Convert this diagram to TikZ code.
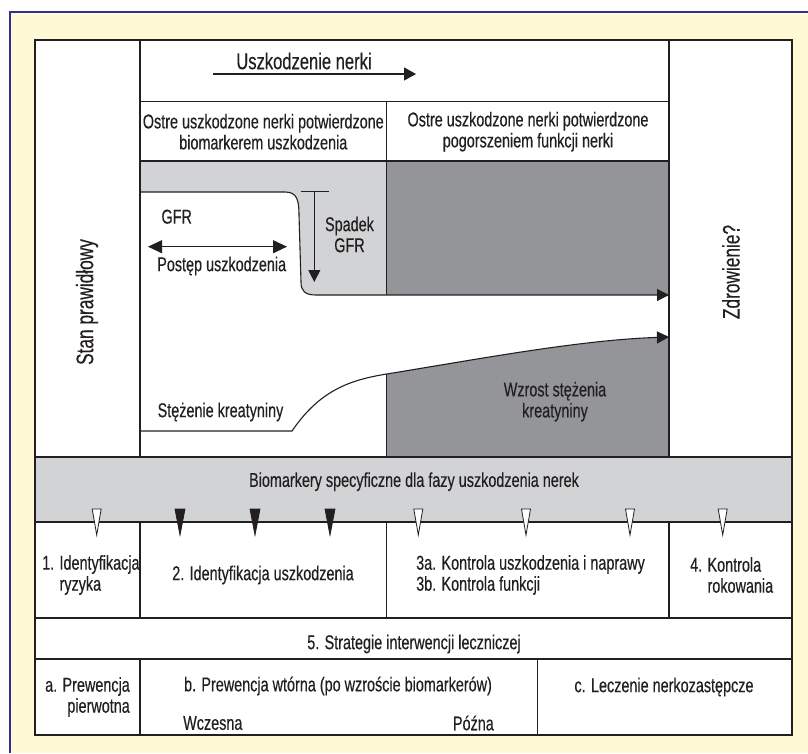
\documentclass[tikz,border=0pt]{standalone}
\usepackage{fontspec}
\setmainfont{Liberation Sans}[FakeStretch=0.72,FakeBold=0.35]
\usetikzlibrary{arrows.meta}
\definecolor{cream}{RGB}{255,249,214}
\definecolor{frameblue}{RGB}{46,49,146}
\definecolor{lgray}{RGB}{209,211,212}
\definecolor{dgray}{RGB}{147,149,152}
\definecolor{ink}{RGB}{35,31,32}
\begin{document}
\begin{tikzpicture}[x=1pt,y=-1pt,
  grid/.style={draw=ink,line width=1.2pt},
  lbl/.style={text=ink,inner sep=0pt,align=center,font=\fontsize{20}{21}\selectfont},
  big/.style={text=ink,inner sep=0pt,align=center,font=\fontsize{23}{25}\selectfont},
  rot/.style={text=ink,inner sep=0pt,rotate=90,font=\fontsize{24}{26}\selectfont},
  tip/.style={-{Triangle[length=12pt,width=12pt]}},
  wmark/.pic={\draw[ink,fill=white,line width=0.8pt] (-4.5,-13) -- (4.5,-13) -- (0,13) -- cycle;},
  bmark/.pic={\draw[ink,fill=ink,line width=0.8pt] (-5,-13) -- (5,-13) -- (0,13) -- cycle;}]
\useasboundingbox (0,0) rectangle (808,753);
\fill[white] (0,0) rectangle (808,753);
\fill[cream] (10,12) rectangle (808,753);
\draw[frameblue,line width=2.4pt] (10,753) -- (10,12) -- (808,12);
% table background
\fill[white] (35,40) rectangle (792,735);
% light gray GFR region
\fill[lgray] (140,161) -- (386.7,161) -- (386.7,295) -- (316,295)
  .. controls (305,295) and (301,291) .. (301,282) -- (299,215)
  .. controls (299,200) and (297,192) .. (285,192) -- (140,192) -- cycle;
% dark gray regions
\fill[dgray] (386.7,161) rectangle (669,295);
\fill[dgray] (386.7,374) .. controls (480,358.8) and (580,340) .. (669,337) -- (669,457) -- (386.7,457) -- cycle;
% biomarker band
\fill[lgray] (35,457) rectangle (792,522);
% grid lines
\draw[grid] (35,40) rectangle (792,735);
\draw[grid] (140,40) -- (140,457) (140,522) -- (140,618) (140,659) -- (140,735);
\draw[grid] (669,40) -- (669,457) (669,522) -- (669,618);
\draw[grid] (386.7,101.7) -- (386.7,295) (386.7,374) -- (386.7,457) (386.7,522) -- (386.7,618);
\draw[grid] (537.7,659) -- (537.7,735);
\draw[grid] (140,101.7) -- (669,101.7) (140,161) -- (669,161);
\draw[grid] (35,457) -- (792,457) (35,522) -- (792,522) (35,618) -- (792,618) (35,659) -- (792,659);
% header arrow
\coordinate (hA) at (213,74);
\coordinate (hB) at (416,74);
\draw[ink,line width=1.1pt,-{Triangle[length=12pt,width=13pt]}] (hA) -- (hB);
\node[big] (title) at (304,61) {Uszkodzenie nerki};
% GFR curve
\coordinate (gS) at (140,192);
\coordinate (gE) at (669,295);
\draw[ink,line width=1.1pt,tip] (gS) -- (285,192)
  .. controls (297,192) and (299,200) .. (299,215) -- (301,282)
  .. controls (301,291) and (305,295) .. (316,295) -- (gE);
% creatinine curve
\coordinate (cS) at (140,431);
\coordinate (cE) at (669,337);
\draw[ink,line width=1.1pt,tip] (cS) -- (292,431)
  .. controls (320,390) and (350,380) .. (386.7,374)
  .. controls (480,358.8) and (580,340) .. (cE);
% spadek GFR
\coordinate (sA) at (314.3,191.7);
\coordinate (sB) at (314.3,282);
\draw[ink,line width=1.1pt] (300.7,191.7) -- (329,191.7);
\draw[ink,line width=1.1pt,-{Triangle[length=12pt,width=12pt]}] (sA) -- (sB);
% postep
\coordinate (pA) at (148,246.7);
\coordinate (pB) at (287,246.7);
\draw[ink,line width=1.1pt,{Triangle[length=14pt,width=13pt]}-{Triangle[length=14pt,width=13pt]}] (pA) -- (pB);
% texts
\node[lbl] (r2a) at (263.3,131.7) {Ostre uszkodzone nerki potwierdzone\\biomarkerem uszkodzenia};
\node[lbl] (r2b) at (528,131.7) {Ostre uszkodzone nerki potwierdzone\\pogorszeniem funkcji nerki};
\node[lbl] (gfr) at (176.7,216.7) {GFR};
\node[lbl] (spadek) at (349.5,234.5) {Spadek\\GFR};
\node[lbl] (postep) at (221.7,266) {Postęp uszkodzenia};
\node[lbl] (stez) at (220.5,412) {Stężenie kreatyniny};
\node[lbl] (wzrost) at (555,401.7) {Wzrost stężenia\\kreatyniny};
\node[rot] (stan) at (87,302) {Stan prawidłowy};
\node[rot] (zdr) at (731,272) {Zdrowienie?};
\node[lbl] (bio) at (414,481.7) {Biomarkery specyficzne dla fazy uszkodzenia nerek};
\foreach \x in {96.7,418.3,526,630,722.7} \pic at (\x,522) {wmark};
\foreach \x in {180,255,330} \pic at (\x,522) {bmark};
\node[lbl,anchor=west,align=left] (t1) at (42,575) {1. Identyfikacja\\\phantom{1. }ryzyka};
\node[lbl] (t2) at (263,575) {2. Identyfikacja uszkodzenia};
\node[lbl,anchor=west,align=left] (t3) at (416,575) {3a. Kontrola uszkodzenia i naprawy\\3b. Kontrola funkcji};
\node[lbl,anchor=west,align=left] (t4) at (690,575) {4. Kontrola\\\phantom{4. }rokowania};
\node[lbl] (t5) at (414,644) {5. Strategie interwencji leczniczej};
\node[lbl,anchor=east,align=right] (ta) at (130,697) {a. Prewencja\\pierwotna};
\node[lbl] (tb) at (338,686) {b. Prewencja wtórna (po wzroście biomarkerów)};
\node[lbl,anchor=west] (tbw) at (183,723) {Wczesna};
\node[lbl,anchor=east] (tbp) at (494,723) {Późna};
\node[lbl] (tc) at (664,687) {c. Leczenie nerkozastępcze};
\end{tikzpicture}
\end{document}
